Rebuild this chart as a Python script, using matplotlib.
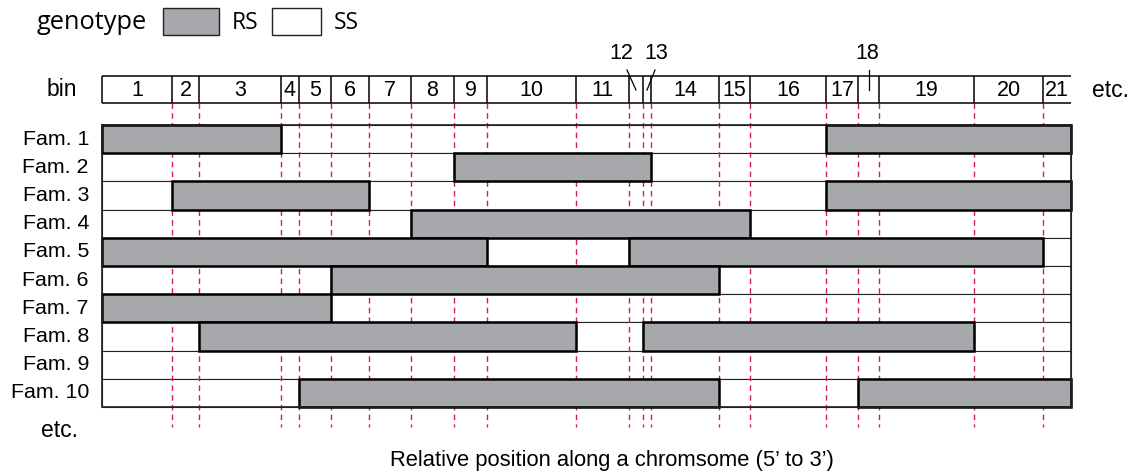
import numpy as np
import matplotlib.pyplot as plt
from matplotlib.patches import Rectangle

# Bin widths along the chromosome (relative units, 5' to 3')
bin_widths = [70, 27, 82, 18, 32, 38, 42, 43, 33, 89, 53, 14, 8, 68, 31, 76, 32, 21, 95, 69, 28]
bin_labels = [str(i) for i in range(1, 22)]
small_bins = {12: (-15, -9), 13: (9, 8), 18: (-1, 0)}   # label offset, leader top offset

families = ['Fam. 1', 'Fam. 2', 'Fam. 3', 'Fam. 4', 'Fam. 5',
            'Fam. 6', 'Fam. 7', 'Fam. 8', 'Fam. 9', 'Fam. 10']
# RS (heterozygous) runs as (first bin, last bin); everything else is SS
rs_runs = [
    [(1, 3), (17, 21)],
    [(9, 13)],
    [(2, 6), (17, 21)],
    [(8, 15)],
    [(1, 9), (12, 20)],
    [(6, 14)],
    [(1, 5)],
    [(3, 10), (13, 19)],
    [],
    [(5, 14), (18, 21)],
]

edges = np.concatenate([[0], np.cumsum(bin_widths)])
total = edges[-1]
centers = (edges[:-1] + edges[1:]) / 2

gray = '#a7a8ab'
red = '#d21f50'
font = 'Liberation Sans'
legend_font = 'Open Sans'

fig = plt.figure(figsize=(11.3, 4.74), dpi=100)
ax = fig.add_axes([0, 0, 1, 1])
ax.set_xlim(-102, 1028)
ax.set_ylim(12.376, -4.433)
ax.axis('off')

n = len(families)

# row backgrounds
ax.barh(np.arange(n) + 0.5, total, left=0, height=1, color='white',
        edgecolor='#222222', linewidth=0.8, zorder=1)

# red dashed bin boundaries
ax.vlines(edges[1:-1], -0.78, 10.72, colors=red, linestyles=(0, (4, 3)),
          linewidth=1.0, zorder=2)

# RS segments
for i, runs in enumerate(rs_runs):
    for a, b in runs:
        ax.barh(i + 0.5, edges[b] - edges[a - 1], left=edges[a - 1], height=1,
                color=gray, edgecolor='black', linewidth=1.8, zorder=3)
    ax.text(-13, i + 0.5, families[i], ha='right', va='center',
            fontsize=15.4, family=font)

ax.add_patch(Rectangle((0, 0), total, n, fill=False, edgecolor='#222222',
                       linewidth=1.2, zorder=4))

# bin row
y_top, y_bot = -1.738, -0.78
ax.hlines([y_top, y_bot], 0, total, colors='black', linewidth=1.1, zorder=4)
ax.vlines(edges[:-1], y_top, y_bot, colors='black', linewidth=1.1, zorder=4)
y_mid = (y_top + y_bot) / 2
for k, (c, lab) in enumerate(zip(centers, bin_labels)):
    b = k + 1
    if b in small_bins:
        dx, dtop = small_bins[b]
        ax.text(c + dx, -2.52, lab, ha='center', va='center', fontsize=15.5, family=font)
        ax.plot([c + dtop, c], [-1.95, -1.24], color='black', linewidth=0.9, zorder=5)
    else:
        ax.text(c, y_mid + 0.02, lab, ha='center', va='center', fontsize=15.5, family=font)

ax.text(-40, y_mid, 'bin', ha='center', va='center', fontsize=16.5, family=font)
ax.text(990, y_mid + 0.05, 'etc.', ha='left', va='center', fontsize=16.5, family=font)
ax.text(-43, 10.85, 'etc.', ha='center', va='center', fontsize=16.5, family=font)

ax.text(510, 11.88, 'Relative position along a chromsome (5\u2019 to 3\u2019)',
        ha='center', va='center', fontsize=15.8, family=font)

# legend
ax.text(-65, -3.40, 'genotype', ha='left', va='baseline', fontsize=18.3, family=legend_font)
ax.add_patch(Rectangle((61, -4.149), 56, 0.958, facecolor=gray, edgecolor='#222222', linewidth=1.0))
ax.text(130, -3.40, 'RS', ha='left', va='baseline', fontsize=16.5, family=legend_font)
ax.add_patch(Rectangle((170, -4.149), 49, 0.958, facecolor='white', edgecolor='#222222', linewidth=1.0))
ax.text(232, -3.40, 'SS', ha='left', va='baseline', fontsize=16.5, family=legend_font)

plt.savefig('out.png', dpi=100)
